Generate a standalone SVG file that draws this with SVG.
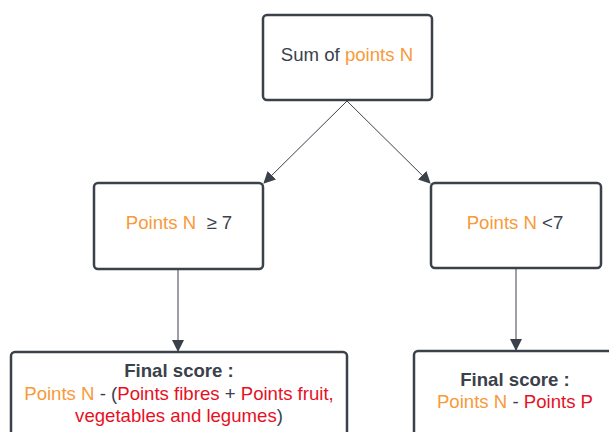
<svg xmlns="http://www.w3.org/2000/svg" width="609" height="432" viewBox="0 0 609 432">
<defs>
<marker id="ah" markerWidth="12" markerHeight="12" refX="11" refY="6" orient="auto" markerUnits="userSpaceOnUse">
<path d="M0,0 L12,6 L0,12 Z" fill="#3a414a"/>
</marker>
<style>
.box{fill:#ffffff;stroke:#3a414a;stroke-width:2.5}
.t{font-family:"Liberation Sans",Arial,sans-serif;font-size:18.6px;fill:#3a414a;text-anchor:middle}
.b{font-weight:bold}
.o{fill:#f89a3a}
.r{fill:#e8101f}
.ln{stroke:#3a414a;stroke-width:1;fill:none}
</style>
</defs>
<rect width="609" height="432" fill="#ffffff"/>
<g id="connectors">
<path class="ln" d="M347,101 L264,183" marker-end="url(#ah)"/>
<path class="ln" d="M347,101 L430,183" marker-end="url(#ah)"/>
<path class="ln" d="M178,270 L178,351" marker-end="url(#ah)"/>
<path class="ln" d="M516,269 L516,350" marker-end="url(#ah)"/>
</g>
<g id="sum">
<rect class="box" x="263" y="15" width="169" height="85" rx="4"/>
<text class="t" x="347" y="61">Sum of <tspan class="o">points N</tspan></text>
</g>
<g id="ge7">
<rect class="box" x="94" y="183" width="169" height="86" rx="4"/>
<text class="t" x="179" y="229"><tspan class="o">Points N</tspan>&#160; ≥ 7</text>
</g>
<g id="lt7">
<rect class="box" x="431" y="183" width="170" height="85" rx="4"/>
<text class="t" x="515" y="229"><tspan class="o">Points N</tspan> &lt;7</text>
</g>
<g id="finalA">
<rect class="box" x="11" y="352" width="336" height="100" rx="4"/>
<text class="t b" x="179" y="377">Final score :</text>
<text class="t" x="179" y="400"><tspan class="o">Points N</tspan> - (<tspan class="r">Points fibres</tspan> + <tspan class="r">Points fruit,</tspan></text>
<text class="t" x="179" y="422"><tspan class="r">vegetables and legumes</tspan>)</text>
</g>
<g id="finalB">
<rect class="box" x="414" y="351" width="220" height="100" rx="4"/>
<text class="t b" x="515" y="386">Final score :</text>
<text class="t" x="515" y="408"><tspan class="o">Points N</tspan> - <tspan class="r">Points P</tspan></text>
</g>
</svg>
